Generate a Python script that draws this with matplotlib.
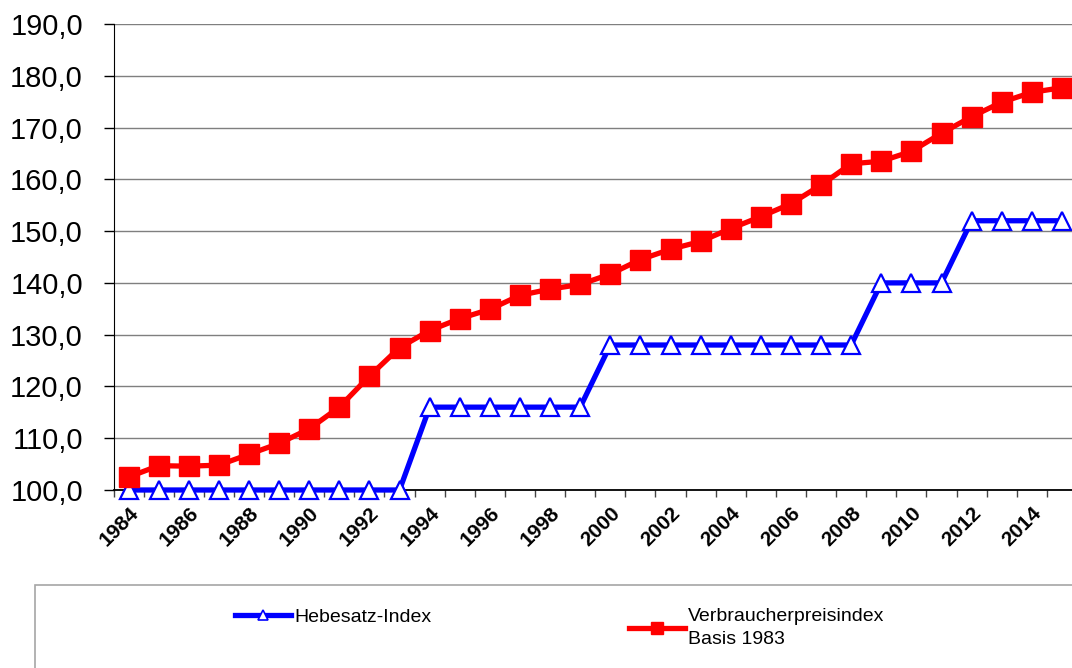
import numpy as np
import matplotlib
matplotlib.use("Agg")
import matplotlib.pyplot as plt
from matplotlib.lines import Line2D
from matplotlib.patches import Rectangle
from matplotlib.ticker import FuncFormatter, FixedLocator

plt.rcParams["font.family"] = ["Liberation Sans", "DejaVu Sans"]

# -----------------------------------------------------------
# Daten
# -----------------------------------------------------------
jahre = list(range(1984, 2016))

hebesatz_index = [
    100, 100, 100, 100, 100, 100, 100, 100, 100, 100,   # 1984-1993
    116, 116, 116, 116, 116, 116,                       # 1994-1999
    128, 128, 128, 128, 128, 128, 128, 128, 128,        # 2000-2008
    140, 140, 140,                                      # 2009-2011
    152, 152, 152, 152,                                 # 2012-2015
]

verbraucherpreisindex = [
    102.5, 104.7, 104.6, 104.8, 106.9, 109.0, 111.8, 116.0,
    122.0, 127.5, 130.8, 133.1, 134.9, 137.6, 138.8, 139.7,
    141.7, 144.5, 146.5, 148.0, 150.5, 152.8, 155.3, 158.9,
    163.0, 163.5, 165.4, 168.9, 172.1, 174.9, 176.8, 177.7,
]

label_hebesatz = "Hebesatz-Index"
label_vpi = "Verbraucherpreisindex\nBasis 1983"

# -----------------------------------------------------------
# Grafik
# -----------------------------------------------------------
W, H = 1072, 668
fig = plt.figure(figsize=(W / 100, H / 100), dpi=100)

# Achsenbereich in Pixeln (rechter Rand läuft etwas über das Bild hinaus)
links, rechts, oben, unten = 113.5, 1077, 24, 490
ax = fig.add_axes([links / W, (H - unten) / H, (rechts - links) / W, (unten - oben) / H])

x = np.arange(len(jahre))

ax.plot(x, hebesatz_index, color="#0000ff", lw=3.8, marker="^", markersize=13,
        markerfacecolor="white", markeredgecolor="#0000ff", markeredgewidth=1.6,
        clip_on=False, zorder=3)
ax.plot(x, verbraucherpreisindex, color="#ff0000", lw=3.8, marker="s", markersize=14,
        markerfacecolor="#ff0000", markeredgecolor="#ff0000",
        clip_on=False, zorder=4)

ax.set_xlim(-0.5, len(jahre) - 0.5)
ax.set_ylim(100, 190)

# Y-Achse mit Komma als Dezimaltrenner
ax.set_yticks(np.arange(100, 191, 10))
ax.yaxis.set_major_formatter(FuncFormatter(lambda v, p: f"{v:.1f}".replace(".", ",")))
ax.tick_params(axis="y", direction="out", length=7, width=1, pad=15, labelsize=21)
ax.yaxis.grid(True, color="#7f7f7f", lw=1)
ax.set_axisbelow(True)

# X-Achse: Striche an den Kategoriegrenzen, Beschriftung jedes zweite Jahr
ax.xaxis.set_major_locator(FixedLocator(x[::2]))
ax.set_xticklabels([str(j) for j in jahre[::2]], rotation=45, ha="right",
                   rotation_mode="anchor", fontweight="bold", fontsize=15)
ax.tick_params(axis="x", which="major", length=0, pad=10)
ax.xaxis.set_minor_locator(FixedLocator(np.arange(-0.5, len(jahre), 1)))
ax.tick_params(axis="x", which="minor", direction="out", length=5, width=1, color="#444444")

for s in ["top", "right"]:
    ax.spines[s].set_visible(False)
ax.spines["left"].set_color("black")
ax.spines["bottom"].set_color("black")
ax.spines["bottom"].set_linewidth(1.3)

# Legendenrahmen
fig.patches.append(Rectangle((35 / W, -0.05), (1100 - 35) / W, (H - 585) / H + 0.05,
                             transform=fig.transFigure, fill=False,
                             edgecolor="#a6a6a6", lw=1.2))

h_blau = Line2D([], [], color="#0000ff", lw=3.8, marker="^", markersize=7,
                markerfacecolor="white", markeredgecolor="#0000ff", markeredgewidth=1.2)
h_rot = Line2D([], [], color="#ff0000", lw=3.8, marker="s", markersize=8,
               markerfacecolor="#ff0000", markeredgecolor="#ff0000")

for handle, text, xpos in [(h_blau, label_hebesatz, 235), (h_rot, label_vpi, 629)]:
    leg = fig.legend([handle], [text], loc="upper left",
                     bbox_to_anchor=(xpos / W, 1 - 608 / H), frameon=False,
                     fontsize=14, handlelength=2.9, handletextpad=0.15,
                     borderpad=0, borderaxespad=0)
    for t in leg.get_texts():
        t.set_linespacing(1.45)

fig.savefig("out.png", dpi=100)
